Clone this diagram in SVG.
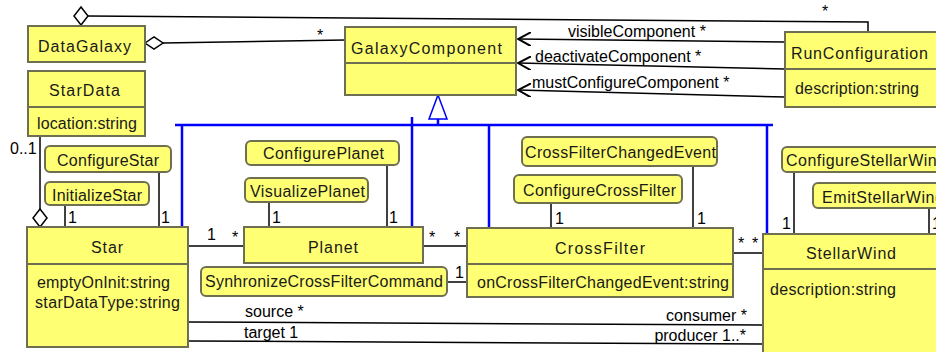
<svg xmlns="http://www.w3.org/2000/svg" width="936" height="352" viewBox="0 0 936 352">
  <style>
    .box { fill: #ffff73; stroke: #6e6e50; stroke-width: 2; }
    .t { font-family: "Liberation Sans", Arial, sans-serif; font-size: 16px; fill: #1a1a1a; }
    .lbl { font-family: "Liberation Sans", Arial, sans-serif; font-size: 16px; fill: #000; }
    .assoc { stroke: #000; stroke-width: 1.5; fill: none; }
    .dia { stroke: #000; stroke-width: 1.5; fill: #fff; }
    .gen { stroke: #0000ff; stroke-width: 2.5; fill: none; }
  </style>
  <defs>
    <marker id="open-arrow" viewBox="0 0 14 14" refX="13" refY="7" markerWidth="14" markerHeight="14" markerUnits="userSpaceOnUse" orient="auto">
      <path d="M0,0 L13,7 L0,14" fill="none" stroke="#000" stroke-width="2"/>
    </marker>
  </defs>

  <!-- connectors -->
  <g id="connectors">
    <!-- DataGalaxy aggregations -->
    <polyline class="assoc" points="88,16 868,22 868,33"/>
    <polygon class="dia" points="81,7 88,16 81,25 74,16"/>
    <line class="assoc" x1="163" y1="43" x2="345" y2="40"/>
    <polygon class="dia" points="145,43 154,37 163,43 154,49"/>
    <text class="lbl" x="822" y="17">*</text>
    <text class="lbl" x="317" y="41">*</text>

    <!-- RunConfiguration to GalaxyComponent -->
    <line class="assoc" x1="785" y1="42" x2="518" y2="39" marker-end="url(#open-arrow)"/>
    <line class="assoc" x1="785" y1="69" x2="518" y2="63" marker-end="url(#open-arrow)"/>
    <line class="assoc" x1="785" y1="97" x2="518" y2="90" marker-end="url(#open-arrow)"/>
    <text class="lbl" x="568" y="37">visibleComponent *</text>
    <text class="lbl" x="535" y="62">deactivateComponent *</text>
    <text class="lbl" x="532" y="88">mustConfigureComponent *</text>

    <!-- generalization tree -->
    <line class="gen" x1="175" y1="125" x2="773" y2="125" stroke-width="5"/>
    <line class="gen" x1="438" y1="119" x2="438" y2="124"/>
    <polygon points="438,95 447,119 429,119" fill="#fff" stroke="#0000ff" stroke-width="1.5"/>
    <line class="gen" x1="182" y1="125" x2="182" y2="227"/>
    <line class="gen" x1="412" y1="117" x2="412" y2="227"/>
    <line class="gen" x1="489" y1="125" x2="489" y2="228"/>
    <line class="gen" x1="767" y1="125" x2="767" y2="234"/>

    <!-- StarData to Star -->
    <line class="assoc" x1="40" y1="136" x2="40" y2="209"/>
    <polygon class="dia" points="40,209 47,218 40,227 33,218"/>
    <text class="lbl" x="10" y="154">0..1</text>

    <!-- Star commands -->
    <line class="assoc" x1="159" y1="172" x2="159" y2="227"/>
    <text class="lbl" x="161" y="223">1</text>
    <line class="assoc" x1="65" y1="205" x2="65" y2="227"/>
    <text class="lbl" x="68" y="223">1</text>

    <!-- Planet commands -->
    <line class="assoc" x1="387" y1="165" x2="387" y2="227"/>
    <text class="lbl" x="389" y="223">1</text>
    <line class="assoc" x1="269" y1="202" x2="269" y2="227"/>
    <text class="lbl" x="272" y="223">1</text>

    <!-- CrossFilter events and commands -->
    <line class="assoc" x1="693" y1="166" x2="693" y2="228"/>
    <text class="lbl" x="697" y="224">1</text>
    <line class="assoc" x1="551" y1="203" x2="551" y2="228"/>
    <text class="lbl" x="555" y="224">1</text>

    <!-- StellarWind commands -->
    <line class="assoc" x1="794" y1="172" x2="794" y2="234"/>
    <text class="lbl" x="782" y="229">1</text>
    <line class="assoc" x1="929" y1="208" x2="929" y2="234"/>
    <text class="lbl" x="932" y="229">1</text>

    <!-- Star - Planet -->
    <line class="assoc" x1="188" y1="246" x2="244" y2="246"/>
    <text class="lbl" x="207" y="240">1</text>
    <text class="lbl" x="232" y="243">*</text>

    <!-- Planet - CrossFilter -->
    <line class="assoc" x1="423" y1="246" x2="467" y2="246"/>
    <text class="lbl" x="429" y="243">*</text>
    <text class="lbl" x="454" y="243">*</text>

    <!-- SynhronizeCrossFilterCommand - CrossFilter -->
    <line class="assoc" x1="447" y1="282" x2="467" y2="282"/>
    <text class="lbl" x="455" y="278">1</text>

    <!-- CrossFilter - StellarWind -->
    <line class="assoc" x1="733" y1="253" x2="763" y2="253"/>
    <text class="lbl" x="738" y="249">*</text>
    <text class="lbl" x="752" y="249">*</text>

    <!-- Star - StellarWind -->
    <line class="assoc" x1="188" y1="322" x2="763" y2="325"/>
    <line class="assoc" x1="188" y1="341" x2="763" y2="344"/>
    <text class="lbl" x="245" y="317">source *</text>
    <text class="lbl" x="244" y="338">target 1</text>
    <text class="lbl" x="747" y="321" text-anchor="end">consumer *</text>
    <text class="lbl" x="746" y="341" text-anchor="end">producer 1..*</text>
  </g>

  <!-- classes -->
  <g id="DataGalaxy">
    <rect class="box" x="28" y="26" width="117" height="36"/>
    <text class="t" x="38" y="52" textLength="93" lengthAdjust="spacing">DataGalaxy</text>
  </g>

  <g id="StarData">
    <rect class="box" x="28" y="71" width="117" height="65"/>
    <line class="box" x1="28" y1="107" x2="145" y2="107"/>
    <text class="t" x="49" y="96" textLength="71" lengthAdjust="spacing">StarData</text>
    <text class="t" x="37" y="129" textLength="100" lengthAdjust="spacing">location:string</text>
  </g>

  <g id="GalaxyComponent">
    <rect class="box" x="345" y="27" width="171" height="68"/>
    <line class="box" x1="345" y1="63" x2="516" y2="63"/>
    <text class="t" x="351" y="54" textLength="151" lengthAdjust="spacing">GalaxyComponent</text>
  </g>

  <g id="RunConfiguration">
    <rect class="box" x="785" y="32" width="160" height="75"/>
    <line class="box" x1="785" y1="69" x2="945" y2="69"/>
    <text class="t" x="791" y="59" textLength="137" lengthAdjust="spacing">RunConfiguration</text>
    <text class="t" x="795" y="94" textLength="124" lengthAdjust="spacing">description:string</text>
  </g>

  <g id="ConfigureStar">
    <rect class="box" x="45" y="146" width="126" height="26" rx="5"/>
    <text class="t" x="57" y="166" textLength="102" lengthAdjust="spacing">ConfigureStar</text>
  </g>

  <g id="InitializeStar">
    <rect class="box" x="45" y="182" width="104" height="23" rx="5"/>
    <text class="t" x="52" y="201" textLength="90" lengthAdjust="spacing">InitializeStar</text>
  </g>

  <g id="Star">
    <rect class="box" x="27" y="227" width="161" height="120"/>
    <line class="box" x1="27" y1="264" x2="188" y2="264"/>
    <text class="t" x="91" y="253" textLength="32" lengthAdjust="spacing">Star</text>
    <text class="t" x="37" y="288" textLength="133" lengthAdjust="spacing">emptyOnInit:string</text>
    <text class="t" x="35" y="308" textLength="145" lengthAdjust="spacing">starDataType:string</text>
  </g>

  <g id="ConfigurePlanet">
    <rect class="box" x="246" y="141" width="153" height="24" rx="5"/>
    <text class="t" x="263" y="159" textLength="121" lengthAdjust="spacing">ConfigurePlanet</text>
  </g>

  <g id="VisualizePlanet">
    <rect class="box" x="245" y="178" width="123" height="24" rx="5"/>
    <text class="t" x="250" y="197" textLength="115" lengthAdjust="spacing">VisualizePlanet</text>
  </g>

  <g id="Planet">
    <rect class="box" x="244" y="227" width="179" height="36"/>
    <text class="t" x="308" y="253" textLength="50" lengthAdjust="spacing">Planet</text>
  </g>

  <g id="SynhronizeCrossFilterCommand">
    <rect class="box" x="201" y="267" width="246" height="29" rx="5"/>
    <text class="t" x="205" y="287" textLength="238" lengthAdjust="spacing">SynhronizeCrossFilterCommand</text>
  </g>

  <g id="CrossFilterChangedEvent">
    <rect class="box" x="522" y="137" width="195" height="29" rx="5"/>
    <text class="t" x="525" y="158" textLength="191" lengthAdjust="spacing">CrossFilterChangedEvent</text>
  </g>

  <g id="ConfigureCrossFilter">
    <rect class="box" x="514" y="175" width="168" height="28" rx="5"/>
    <text class="t" x="523" y="196" textLength="153" lengthAdjust="spacing">ConfigureCrossFilter</text>
  </g>

  <g id="CrossFilter">
    <rect class="box" x="467" y="228" width="266" height="69"/>
    <line class="box" x1="467" y1="264" x2="733" y2="264"/>
    <text class="t" x="555" y="254" textLength="90" lengthAdjust="spacing">CrossFilter</text>
    <text class="t" x="477" y="288" textLength="252" lengthAdjust="spacing">onCrossFilterChangedEvent:string</text>
  </g>

  <g id="ConfigureStellarWind">
    <rect class="box" x="782" y="147" width="170" height="25" rx="5"/>
    <text class="t" x="786" y="166" textLength="160" lengthAdjust="spacing">ConfigureStellarWind</text>
  </g>

  <g id="EmitStellarWind">
    <rect class="box" x="813" y="183" width="140" height="25" rx="5"/>
    <text class="t" x="822" y="203" textLength="122" lengthAdjust="spacing">EmitStellarWind</text>
  </g>

  <g id="StellarWind">
    <rect class="box" x="763" y="234" width="190" height="130"/>
    <line class="box" x1="763" y1="269" x2="953" y2="269"/>
    <text class="t" x="806" y="259" textLength="90" lengthAdjust="spacing">StellarWind</text>
    <text class="t" x="770" y="295" textLength="126" lengthAdjust="spacing">description:string</text>
  </g>
</svg>
